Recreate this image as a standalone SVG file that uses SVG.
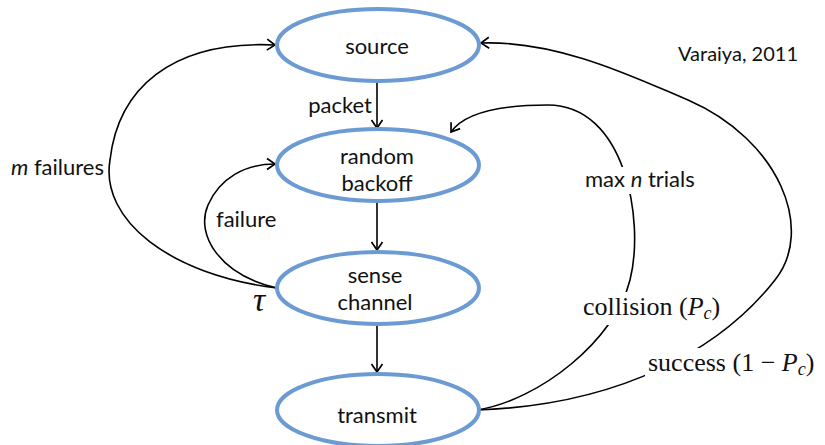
<svg xmlns="http://www.w3.org/2000/svg" width="825" height="445" viewBox="0 0 825 445">
  <style>
    .node { fill: #ffffff; stroke: #6b9bd2; stroke-width: 4; }
    .lbl { font-family: Lato, "Open Sans", sans-serif; font-size: 22px; fill: #111; }
    .math { font-family: "Liberation Serif", "DejaVu Serif", serif; font-size: 26px; fill: #111; }
    .tau { font-size: 34px; font-style: italic; }
    .note { font-size: 20px; }
    .edge { fill: none; stroke: #000; stroke-width: 1.6; }
    .mask { fill: #ffffff; stroke: none; }
  </style>
  <defs>
    <marker id="arrow" viewBox="-10 -7 12 14" markerWidth="12" markerHeight="14" refX="0" refY="0" orient="auto" markerUnits="userSpaceOnUse">
      <path d="M-8,-5.5 L0,0 L-8,5.5" fill="none" stroke="#000" stroke-width="1.7"/>
    </marker>
  </defs>
  <rect width="825" height="445" fill="#ffffff"/>

  <g id="connectors">
    <!-- straight flow down the chain -->
    <path class="edge" d="M377,81 L377,128" marker-end="url(#arrow)"/>
    <path class="edge" d="M377,201 L377,250" marker-end="url(#arrow)"/>
    <path class="edge" d="M377,324 L377,372" marker-end="url(#arrow)"/>
    <!-- m failures: sense channel back to source -->
    <path class="edge" d="M277,288 C170,275 100,220 110,160 C118,90 170,40 275,45" marker-end="url(#arrow)"/>
    <!-- failure: sense channel back to random backoff -->
    <path class="edge" d="M277,288 C220,275 195,235 208,205 C220,178 245,164 275,164" marker-end="url(#arrow)"/>
    <!-- collision: transmit back to random backoff -->
    <path class="edge" d="M477,410 C540,400 615,340 630,280 C645,220 625,105 548,105 C500,105 465,112 451,132" marker-end="url(#arrow)"/>
    <!-- success: transmit back to source -->
    <path class="edge" d="M477,410 C620,405 720,350 775,280 C815,230 780,140 688,100 C640,80 560,40 481,43" marker-end="url(#arrow)"/>
  </g>

  <g id="edge-labels">
    <text class="lbl" x="340" y="113" text-anchor="middle">packet</text>
    <text class="lbl" x="11" y="175"><tspan font-style="italic">m</tspan> failures</text>
    <text class="lbl" x="216" y="227">failure</text>
    <text class="math tau" x="253" y="311">τ</text>
    <rect class="mask" x="582" y="167" width="120" height="27"/>
    <text class="lbl" x="585" y="187">max <tspan font-style="italic">n</tspan> trials</text>
    <rect class="mask" x="580" y="292" width="142" height="33"/>
    <text class="math" x="583" y="315">collision (<tspan font-style="italic">P</tspan><tspan font-style="italic" font-size="18" dy="4">c</tspan><tspan dy="-4">)</tspan></text>
    <rect class="mask" x="645" y="348" width="180" height="33"/>
    <text class="math" x="648" y="371">success (1 − <tspan font-style="italic">P</tspan><tspan font-style="italic" font-size="18" dy="4">c</tspan><tspan dy="-4">)</tspan></text>
    <text class="lbl note" x="678" y="61">Varaiya, 2011</text>
  </g>

  <g id="source">
    <ellipse class="node" cx="378" cy="45" rx="101" ry="36"/>
    <text class="lbl" x="377" y="54" text-anchor="middle">source</text>
  </g>
  <g id="random-backoff">
    <ellipse class="node" cx="378" cy="165" rx="101" ry="36"/>
    <text class="lbl" x="377" y="164" text-anchor="middle">random</text>
    <text class="lbl" x="377" y="191" text-anchor="middle">backoff</text>
  </g>
  <g id="sense-channel">
    <ellipse class="node" cx="378" cy="288" rx="101" ry="36"/>
    <text class="lbl" x="375" y="283" text-anchor="middle">sense</text>
    <text class="lbl" x="375" y="310" text-anchor="middle">channel</text>
  </g>
  <g id="transmit">
    <ellipse class="node" cx="378" cy="410" rx="101" ry="36"/>
    <text class="lbl" x="377" y="423" text-anchor="middle">transmit</text>
  </g>
</svg>
